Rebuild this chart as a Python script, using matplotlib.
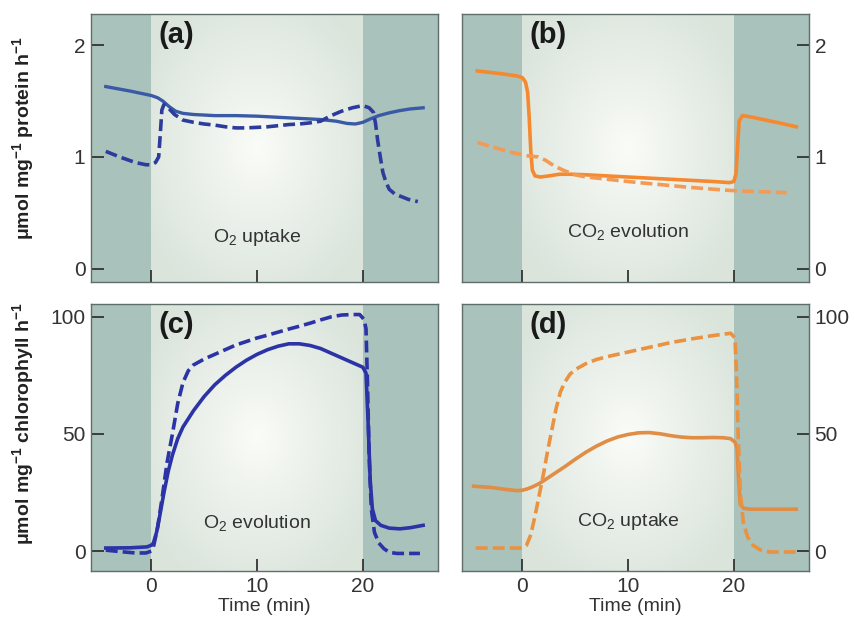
import numpy as np
import matplotlib
matplotlib.use("Agg")
import matplotlib.pyplot as plt

plt.rcParams['font.family'] = ['Liberation Sans', 'DejaVu Sans']
plt.rcParams['mathtext.default'] = 'regular'

# panel (a): O2 uptake, umol mg-1 protein h-1
a_solid_t = [-4.3, -2, 0, 0.6, 1.1, 1.7, 2.3, 3, 4, 6, 8, 10, 12, 14, 16, 17.5, 18.5, 19.3, 20, 20.7,
             21.5, 22.5, 23.5, 24.5, 25.7]
a_solid_v = [1.63, 1.59, 1.55, 1.53, 1.50, 1.45, 1.41, 1.39, 1.38, 1.37, 1.37, 1.365, 1.355, 1.345,
             1.335, 1.32, 1.30, 1.295, 1.31, 1.34, 1.37, 1.395, 1.415, 1.43, 1.44]
a_dash_t = [-4.3, -3, -1.5, -0.5, 0, 0.4, 0.7, 0.85, 1.0, 1.2, 1.6, 2.2, 3, 4, 5, 6, 7, 8, 9, 10, 11,
            12, 13, 14, 15, 16, 17, 18, 19, 20, 20.6, 21.0, 21.2, 21.4, 21.65, 21.9, 22.2, 22.5, 23,
            23.5, 24.3, 25.2]
a_dash_v = [1.05, 1.0, 0.95, 0.93, 0.93, 0.95, 1.0, 1.2, 1.42, 1.47, 1.44, 1.38, 1.33, 1.31, 1.295,
            1.285, 1.27, 1.26, 1.26, 1.265, 1.27, 1.28, 1.29, 1.295, 1.305, 1.32, 1.37, 1.41, 1.44,
            1.46, 1.44, 1.40, 1.3, 1.15, 1.0, 0.86, 0.77, 0.71, 0.67, 0.65, 0.62, 0.60]

# panel (b): CO2 evolution
b_solid_t = [-4.25, -2, -0.5, 0, 0.3, 0.5, 0.65, 0.8, 0.95, 1.2, 1.7, 2.5, 3.5, 4.5, 6, 8, 10, 12, 14,
             16, 18, 19.6, 20.0, 20.2, 20.35, 20.5, 20.8, 21.5, 23, 24.5, 25.9]
b_solid_v = [1.77, 1.745, 1.725, 1.71, 1.67, 1.58, 1.35, 1.05, 0.88, 0.83, 0.82, 0.83, 0.845, 0.845,
             0.84, 0.83, 0.82, 0.81, 0.80, 0.79, 0.78, 0.77, 0.78, 0.85, 1.1, 1.32, 1.37, 1.36, 1.33,
             1.3, 1.27]
b_dash_t = [-4.25, -2.5, -1, 0.5, 1.5, 2.2, 3, 3.9, 5, 6, 7.1, 9, 11, 13.3, 15.5, 17.5, 19.6, 22, 25]
b_dash_v = [1.13, 1.08, 1.04, 1.01, 1.0, 0.97, 0.92, 0.88, 0.84, 0.82, 0.81, 0.79, 0.77, 0.75, 0.73,
            0.715, 0.70, 0.69, 0.68]

# panel (c): O2 evolution, umol mg-1 chlorophyll h-1
c_solid_t = [-4.3, -2, -0.4, 0, 0.2, 0.5, 0.8, 1.2, 1.6, 2.0, 2.5, 3, 4, 5, 6, 7, 8, 9, 10, 11, 12,
             13, 14, 15, 16, 17, 18, 19, 20, 20.3, 20.5, 20.7, 20.9, 21.2, 21.7, 22.5, 23.5, 24.5, 25.7]
c_solid_v = [1.3, 1.4, 1.8, 2.5, 3.4, 8, 15, 25, 34, 41, 48, 53, 60, 66, 71, 75, 78.5, 81.5, 84, 86,
             87.5, 88.5, 88.5, 87.8, 86.5, 84.5, 82.5, 80.5, 78.5, 76, 55, 30, 18, 13, 11, 9.8, 9.5,
             10, 11]
c_dash_t = [-4.3, -3, -1.5, -0.5, 0, 0.2, 0.6, 1.0, 1.5, 2.0, 2.5, 3.0, 3.5, 4, 5, 6, 7, 8, 9, 10, 11,
            12, 13, 14, 15, 16, 17, 18, 19, 19.7, 20.1, 20.3, 20.45, 20.6, 20.8, 21.1, 21.5, 22,
            22.5, 23.2, 25.4]
c_dash_v = [0.4, -0.2, -0.8, -0.8, 0, 1.7, 10, 22, 38, 50, 63, 72, 77, 79.5, 82, 84, 86, 88, 89.5, 91,
            92.2, 93.5, 94.8, 96, 97.3, 98.7, 100, 100.8, 101, 101, 99, 95, 70, 40, 18, 8, 3.5, 1,
            -0.5, -1, -1]

# panel (d): CO2 uptake
d_solid_t = [-4.6, -3, -1.5, -0.5, 0, 0.5, 1, 1.5, 2, 3, 4, 5, 6, 7, 8, 9, 10, 11, 12, 13, 14, 15, 16,
             17, 18, 19, 19.7, 20.1, 20.3, 20.45, 20.6, 20.9, 21.5, 23, 25.9]
d_solid_v = [27.7, 27.2, 26.3, 25.8, 26, 26.6, 27.5, 28.6, 30, 33, 36, 39.2, 42.2, 44.8, 47, 48.7,
             49.8, 50.5, 50.6, 50.1, 49.3, 48.7, 48.4, 48.4, 48.5, 48.4, 48, 46.5, 44, 30, 20, 18.3,
             17.9, 17.9, 17.9]
d_dash_t = [-4.4, -2, 0, 0.4, 0.8, 1.2, 1.6, 2.0, 2.4, 2.8, 3.2, 3.6, 4.0, 4.5, 5, 6, 7, 8, 9, 10, 11,
            12, 13, 14, 15, 16, 17, 18, 19, 19.7, 20.1, 20.25, 20.4, 20.6, 20.9, 21.3, 21.8, 22.5,
            23.4, 25.9]
d_dash_v = [1.3, 1.3, 1.3, 2.5, 7, 15, 24, 33, 43, 52, 61, 68, 72, 75.5, 77.5, 80, 81.8, 83, 84, 85,
            86, 87, 88, 89, 89.8, 90.6, 91.3, 92, 92.6, 93, 91, 75, 50, 25, 12, 6, 2.5, 0.5, -0.4,
            -0.4]

xticks = [0, 10, 20]
top_yticks = [0, 1, 2]
bottom_yticks = [0, 50, 100]

XLIM = (-5.7, 27.1)
DARK = '#a9c2bb'
DASH = (0, (3.3, 1.4))


def gradient(ax, ylim):
    nx, ny = 200, 150
    u = np.linspace(0, 1, nx)
    v = np.linspace(0, 1, ny)
    U, V = np.meshgrid(u, v)
    r = np.sqrt((U - 0.5) ** 2 + (V - 0.5) ** 2) / 0.62
    r = np.clip(r, 0, 1) ** 0.9
    center = np.array([0.985, 0.99, 0.975])
    edge = np.array([0.855, 0.895, 0.86])
    img = center[None, None, :] * (1 - r[..., None]) + edge[None, None, :] * r[..., None]
    ax.imshow(img, extent=[0, 20, ylim[0], ylim[1]], aspect='auto', origin='lower', zorder=0)


def setup(ax, ylim, yticks, right=False, xlabels=False):
    ax.set_xlim(XLIM)
    ax.set_ylim(ylim)
    ax.axvspan(XLIM[0], 0, color=DARK, zorder=0, lw=0)
    ax.axvspan(20, XLIM[1], color=DARK, zorder=0, lw=0)
    gradient(ax, ylim)
    ax.set_xticks(xticks)
    ax.set_yticks(yticks)
    ax.tick_params(direction='in', length=9, width=1.3, color='#333333',
                   labelsize=15, labelcolor='#333333', pad=4)
    if right:
        ax.yaxis.tick_right()
    if not xlabels:
        ax.set_xticklabels([])
    else:
        ax.set_xlabel('Time (min)', fontsize=14, color='#333333', labelpad=2)
    for s in ax.spines.values():
        s.set_color('#5f6e6a')
        s.set_linewidth(1.0)


fig = plt.figure(figsize=(8.55, 6.25), dpi=100)
ax_a = fig.add_axes([0.1064, 0.5488, 0.4058, 0.4288])
ax_b = fig.add_axes([0.5404, 0.5488, 0.4058, 0.4288])
ax_c = fig.add_axes([0.1064, 0.0864, 0.4058, 0.4272])
ax_d = fig.add_axes([0.5404, 0.0864, 0.4058, 0.4272])

top_ylim = (-0.12, 2.28)
bot_ylim = (-8.5, 105.5)

setup(ax_a, top_ylim, top_yticks)
setup(ax_b, top_ylim, top_yticks, right=True)
setup(ax_c, bot_ylim, bottom_yticks, xlabels=True)
setup(ax_d, bot_ylim, bottom_yticks, right=True, xlabels=True)

ax_a.plot(a_solid_t, a_solid_v, color='#3a5aa6', lw=2.4, zorder=3)
ax_a.plot(a_dash_t, a_dash_v, color='#2d3c9c', lw=2.6, ls=DASH, zorder=3)
ax_b.plot(b_solid_t, b_solid_v, color='#f5892f', lw=2.6, zorder=3)
ax_b.plot(b_dash_t, b_dash_v, color='#f39a55', lw=2.6, ls=DASH, zorder=3)
ax_c.plot(c_solid_t, c_solid_v, color='#2b33a6', lw=2.6, zorder=3)
ax_c.plot(c_dash_t, c_dash_v, color='#2b33a6', lw=2.6, ls=DASH, zorder=3)
ax_d.plot(d_solid_t, d_solid_v, color='#e08d45', lw=2.6, zorder=3)
ax_d.plot(d_dash_t, d_dash_v, color='#ea9240', lw=2.6, ls=DASH, zorder=3)

for ax, lab in zip([ax_a, ax_b, ax_c, ax_d], ['(a)', '(b)', '(c)', '(d)']):
    ax.text(0.195, 0.975, lab, transform=ax.transAxes, fontsize=21, fontweight='bold',
            color='#1a1a1a', ha='left', va='top', zorder=4)

ax_a.text(10, 0.28, r'O$_2$ uptake', ha='center', va='center', fontsize=14, color='#333333')
ax_b.text(10, 0.33, r'CO$_2$ evolution', ha='center', va='center', fontsize=14, color='#333333')
ax_c.text(10, 12, r'O$_2$ evolution', ha='center', va='center', fontsize=14, color='#333333')
ax_d.text(10, 12.5, r'CO$_2$ uptake', ha='center', va='center', fontsize=14, color='#333333')

fig.text(0.027, 0.779, r'μmol mg$^{-1}$ protein h$^{-1}$', rotation=90, ha='center', va='center',
         fontsize=14, fontweight='bold', color='#222222')
fig.text(0.027, 0.322, r'μmol mg$^{-1}$ chlorophyll h$^{-1}$', rotation=90, ha='center', va='center',
         fontsize=14, fontweight='bold', color='#222222')

fig.savefig('out.png', dpi=100, facecolor='white')
